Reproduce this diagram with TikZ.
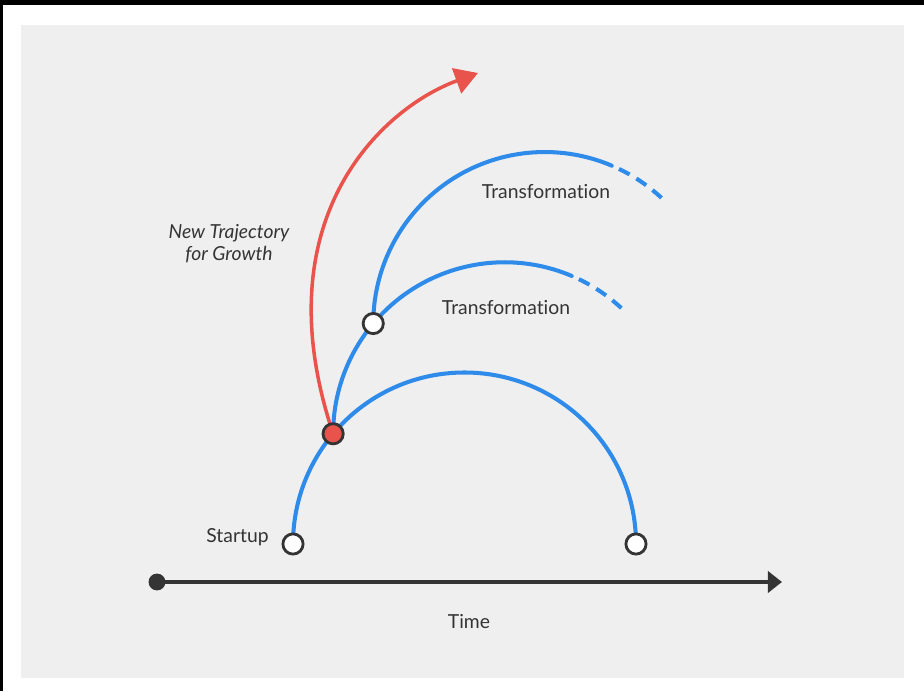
\documentclass[tikz,border=0pt]{standalone}
\usepackage{fontspec}
\setmainfont{Lato}[Ligatures=NoCommon]
\usetikzlibrary{arrows.meta,calc,positioning}
\pgfdeclarelayer{back}
\pgfsetlayers{back,main}
\definecolor{paper}{HTML}{EFEFEF}
\definecolor{ink}{HTML}{343434}
\definecolor{wave}{HTML}{2E8BEA}
\definecolor{hot}{HTML}{E8534B}
\tikzset{
	arcline/.style={draw=wave,line width=2.3pt,line cap=round},
	fade/.style={draw=wave,line width=2.3pt,dash pattern=on 6.8pt off 4.5pt,dash phase=6.8pt},
	ring/.style={circle,draw=ink,fill=white,line width=1.6pt,minimum size=11.5pt,inner sep=0pt},
	hotring/.style={ring,fill=hot},
	label/.style={text=ink,font=\fontsize{11}{12.5}\selectfont,align=center,inner sep=0pt},
	growth/.style={draw=hot,line width=2pt,-{Triangle[length=13pt,width=15pt]}},
	timeline/.style={draw=ink,line width=2.3pt,-{Triangle[length=8pt,width=12pt]}},
	tick/.style={circle,fill=ink,minimum size=9.6pt,inner sep=0pt}
}
\newcommand{\rad}{171.5}

\begin{document}
\begin{tikzpicture}[x=0.02cm,y=0.02cm]
	\useasboundingbox (0,0) rectangle (924,691);
	% points where the curves branch
	\coordinate (c0) at (464.5,147);
	\node[ring] (startup) at ($(c0)+(180:\rad)$) {};
	\node[ring] (exit) at ($(c0)+(0:\rad)$) {};
	\node[hotring] (pivot) at ($(c0)+(140:\rad)$) {};
	\node[ring] (shift) at ($(pivot)+(\rad,0)+(140:\rad)$) {};
	\coordinate (tip) at (478,618);
	\node[tick] (t0) at (157,109) {};
	\coordinate (t1) at (782,109);
	\begin{pgfonlayer}{back}
		\fill[black] (0,686) rectangle (924,691);
		\fill[black] (0,0) rectangle (3,691);
		\fill[paper] (21,13) rectangle (904,666);
		\draw[arcline] (startup.center) arc[start angle=180,end angle=0,radius=\rad];
		\draw[arcline] (pivot.center) arc[start angle=180,end angle=67,radius=\rad] coordinate (lowfade);
		\draw[fade] (lowfade) arc[start angle=67,end angle=47,radius=\rad];
		\draw[arcline] (shift.center) arc[start angle=180,end angle=67,radius=\rad] coordinate (topfade);
		\draw[fade] (topfade) arc[start angle=67,end angle=47,radius=\rad];
		\draw[growth] (pivot.center) .. controls (262,470) and (380,582) .. (tip);
		\draw[timeline] (t0.center) -- (t1);
	\end{pgfonlayer}
	\node[label] (l1) at (546,499) {Transformation};
	\node[label] (l2) at (506,383) {Transformation};
	\node[label,font=\fontsize{11}{12.5}\selectfont\itshape] (l3) at (229,447) {New Trajectory\\for Growth};
	\node[label] (l4) at (237.5,154) {Startup};
	\node[label] (l5) at (469,69) {Time};
\end{tikzpicture}
\end{document}
